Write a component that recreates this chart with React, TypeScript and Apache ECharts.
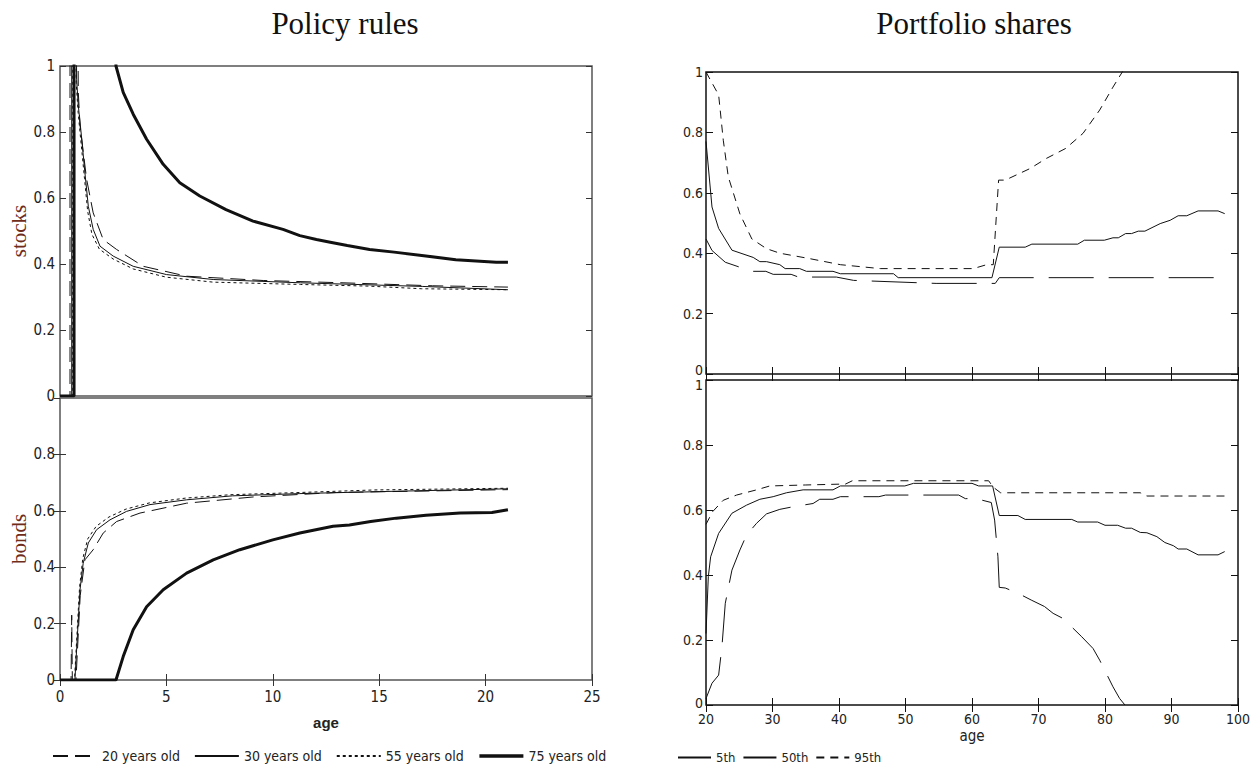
import React, { useEffect, useRef } from "react";
import * as echarts from "echarts";

// ---------- Policy rules (left panel) ----------
const policyXTicks = [0, 5, 10, 15, 20, 25];
const policyNames = ["20 years old", "30 years old", "55 years old", "75 years old"];

const stocks20: number[][] = [[0, 0], [0.47, 0], [0.47, 1.5], [0.8, 1.5], [0.86, 0.92], [0.94, 0.82], [1.25, 0.657], [1.56, 0.555], [2.03, 0.474], [2.66, 0.444], [3.91, 0.393], [5.95, 0.363], [9.55, 0.35], [13.3, 0.343], [17.5, 0.334], [21.05, 0.33]];
const stocks30: number[][] = [[0, 0], [0.55, 0], [0.55, 1.5], [0.75, 1.5], [0.78, 0.96], [0.86, 0.88], [1.02, 0.78], [1.17, 0.677], [1.33, 0.575], [1.56, 0.505], [1.88, 0.454], [2.5, 0.424], [3.44, 0.393], [5.0, 0.368], [7.2, 0.353], [11.3, 0.343], [17.05, 0.332], [21.05, 0.322]];
const stocks55: number[][] = [[0, 0], [0.6, 0], [0.6, 1.5], [0.72, 1.5], [0.76, 0.95], [0.85, 0.86], [1.0, 0.76], [1.15, 0.66], [1.3, 0.56], [1.5, 0.49], [1.85, 0.445], [2.5, 0.415], [3.44, 0.385], [5.0, 0.36], [7.2, 0.345], [11.3, 0.338], [14.5, 0.333], [17.0, 0.325], [21.05, 0.322]];
const stocks75: number[][] = [[0, 0], [0.66, 0], [0.66, 1.5], [2.5, 1.5], [2.63, 1.0], [2.97, 0.92], [3.44, 0.854], [4.07, 0.778], [4.85, 0.702], [5.63, 0.646], [6.57, 0.606], [7.8, 0.565], [9.07, 0.53], [10.48, 0.505], [11.27, 0.486], [12.05, 0.474], [12.7, 0.466], [13.5, 0.456], [14.55, 0.444], [15.7, 0.436], [17.0, 0.426], [18.6, 0.413], [20.5, 0.405], [21.05, 0.405]];

const bonds20: number[][] = [[0, 0], [0.52, 0], [0.55, 0.23], [0.58, 0], [0.75, 0], [0.95, 0.3], [1.17, 0.426], [1.56, 0.462], [2.03, 0.521], [2.66, 0.562], [3.76, 0.592], [5.95, 0.627], [9.07, 0.649], [13.0, 0.665], [21.05, 0.675]];
const bonds30: number[][] = [[0, 0], [0.7, 0], [0.94, 0.32], [1.09, 0.414], [1.33, 0.486], [1.72, 0.533], [2.35, 0.568], [3.13, 0.598], [4.23, 0.622], [5.95, 0.639], [8.1, 0.653], [11.27, 0.661], [15.0, 0.668], [21.05, 0.678]];
const bonds55: number[][] = [[0, 0], [0.68, 0], [0.92, 0.33], [1.07, 0.43], [1.3, 0.5], [1.7, 0.545], [2.3, 0.578], [3.1, 0.606], [4.2, 0.628], [5.9, 0.645], [8.0, 0.657], [11.3, 0.665], [14.8, 0.674], [21.05, 0.68]];
const bonds75: number[][] = [[0, 0], [2.63, 0], [2.97, 0.083], [3.44, 0.178], [4.07, 0.26], [4.85, 0.32], [5.95, 0.379], [7.2, 0.426], [8.45, 0.462], [10.0, 0.497], [11.27, 0.521], [12.83, 0.545], [13.6, 0.55], [14.6, 0.562], [15.8, 0.574], [17.2, 0.584], [18.8, 0.592], [20.3, 0.594], [21.05, 0.604]];

// ---------- Portfolio shares (right panel) ----------
const shareNames = ["5th", "50th", "95th"];

const stocksP5: number[][] = [[20, 0.447], [20.9, 0.409], [22.9, 0.37], [24.9, 0.355], [27.1, 0.34], [29, 0.34], [30.1, 0.33], [32.8, 0.33], [33.9, 0.321], [39.6, 0.321], [42.2, 0.31], [54.6, 0.3], [63, 0.3], [63.5, 0.3], [64.1, 0.319], [97.6, 0.319]];
const stocksP50: number[][] = [[20, 0.77], [20.9, 0.553], [21.9, 0.482], [23.9, 0.41], [27.1, 0.386], [28.1, 0.372], [29.1, 0.372], [31.1, 0.362], [31.9, 0.349], [34.1, 0.349], [35.1, 0.34], [39.1, 0.34], [40.2, 0.332], [48.2, 0.332], [48.9, 0.319], [63, 0.319], [64.1, 0.42], [68, 0.42], [69, 0.43], [75.9, 0.43], [76.9, 0.443], [79.9, 0.443], [81.2, 0.451], [82, 0.451], [83.1, 0.465], [84, 0.465], [85, 0.473], [86, 0.473], [88.3, 0.498], [89.8, 0.509], [91, 0.524], [92.3, 0.524], [94, 0.54], [97, 0.54], [98, 0.531]];
const stocksP95: number[][] = [[20, 1.0], [21.9, 0.924], [22.6, 0.774], [23.35, 0.653], [25.1, 0.53], [26.9, 0.447], [29.1, 0.415], [31.1, 0.4], [35.6, 0.382], [40.2, 0.362], [46.2, 0.349], [60.2, 0.349], [62.2, 0.362], [63.2, 0.362], [64, 0.642], [65, 0.642], [68.7, 0.68], [71.2, 0.714], [74.1, 0.747], [76.7, 0.797], [79.2, 0.874], [81.2, 0.95], [82.6, 1.0], [83.5, 1.04]];

const bondsP5: number[][] = [[20, 0.02], [20.9, 0.067], [21.9, 0.092], [22.4, 0.18], [22.9, 0.313], [23.9, 0.415], [25.1, 0.477], [26.1, 0.523], [27.6, 0.559], [29.1, 0.588], [31.1, 0.602], [33.1, 0.61], [36.1, 0.62], [37.1, 0.633], [39.1, 0.633], [40.2, 0.641], [46, 0.641], [47, 0.646], [58, 0.646], [59, 0.635], [60.6, 0.635], [62.9, 0.623], [63.4, 0.569], [63.9, 0.456], [64.1, 0.362], [65, 0.36], [66.9, 0.344], [68.9, 0.323], [70.9, 0.303], [72.2, 0.282], [73.9, 0.264], [74.7, 0.246], [76.5, 0.21], [78.2, 0.174], [79.2, 0.138], [80.2, 0.097], [81.2, 0.056], [82.2, 0.02], [83, 0.0]];
const bondsP50: number[][] = [[20, 0.22], [20.35, 0.395], [20.7, 0.456], [21.9, 0.528], [23.9, 0.59], [26.1, 0.615], [28.1, 0.633], [30.1, 0.641], [32.1, 0.653], [34.6, 0.662], [39.1, 0.662], [40.2, 0.674], [49.9, 0.674], [51.2, 0.682], [60, 0.682], [61, 0.674], [63.1, 0.674], [64.1, 0.583], [66.9, 0.583], [68, 0.571], [75, 0.571], [75.9, 0.563], [78.9, 0.563], [80, 0.553], [81.9, 0.553], [83.1, 0.544], [84, 0.544], [85.3, 0.531], [86.3, 0.53], [87.8, 0.518], [89, 0.5], [90.3, 0.49], [91, 0.48], [92.3, 0.48], [94, 0.462], [97, 0.462], [98, 0.472]];
const bondsP95: number[][] = [[20, 0.556], [21, 0.595], [22.6, 0.63], [24.6, 0.646], [27.6, 0.662], [29.6, 0.674], [35, 0.677], [41, 0.68], [42, 0.69], [62.5, 0.69], [63.2, 0.67], [64.3, 0.653], [85.3, 0.653], [86.3, 0.643], [98, 0.643]];

const NARROW = '"Liberation Sans Narrow", "Arial Narrow", "DejaVu Sans Condensed", "Liberation Sans", sans-serif';
const SERIF = '"Liberation Serif", "Times New Roman", serif';

export default function App() {
  const ref = useRef<HTMLDivElement>(null);

  useEffect(() => {
    if (!ref.current) return;
    const chart = echarts.init(ref.current, undefined, { renderer: "svg" });

    const leftFrame = "#555";
    const rightFrame = "#111";
    const rightTick = { show: true, inside: true, length: 7, lineStyle: { color: "#111", width: 1 } };

    const mkY = (grid: number, pos: "left" | "right", opts: any = {}) => ({
      type: "value",
      gridIndex: grid,
      position: pos,
      min: 0,
      max: 1,
      interval: 0.2,
      axisLine: { show: false },
      splitLine: { show: false },
      axisTick: { show: true, inside: true, length: 6, lineStyle: { color: "#333", width: 1 } },
      axisLabel: { show: false },
      ...opts,
    });
    const mkX = (grid: number, pos: "bottom" | "top", min: number, max: number, interval: number, opts: any = {}) => ({
      type: "value",
      gridIndex: grid,
      position: pos,
      min,
      max,
      interval,
      axisLine: { show: false },
      splitLine: { show: false },
      axisTick: { show: true, inside: true, length: 6, lineStyle: { color: "#333", width: 1 } },
      axisLabel: { show: false },
      ...opts,
    });

    const leftLabel = { show: true, fontFamily: NARROW, fontSize: 15, color: "#222", margin: 5 };
    const rightLabel = { show: true, fontFamily: NARROW, fontSize: 14, color: "#222", margin: 3 };

    const lineSeries = (name: string, data: number[][], xi: number, yi: number, width: number, type: any) => ({
      name,
      type: "line",
      data,
      xAxisIndex: xi,
      yAxisIndex: yi,
      symbol: "none",
      showSymbol: false,
      clip: true,
      silent: true,
      itemStyle: { color: "#111" },
      lineStyle: { color: "#111", width, type },
    });

    const styles: any[] = [
      { w: 1, t: [15, 7] },
      { w: 1, t: "solid" },
      { w: 1, t: [3, 3] },
      { w: 3, t: "solid" },
    ];
    const pStyles: any[] = [
      { w: 1, t: [45, 15] },
      { w: 1, t: "solid" },
      { w: 1, t: [8, 6] },
    ];

    const stocksLeft = [stocks20, stocks30, stocks55, stocks75];
    const bondsLeft = [bonds20, bonds30, bonds55, bonds75];
    const stocksRight = [stocksP5, stocksP50, stocksP95];
    const bondsRight = [bondsP5, bondsP50, bondsP95];

    const series: any[] = [];
    policyNames.forEach((n, i) => series.push(lineSeries(n, stocksLeft[i], 0, 0, styles[i].w, styles[i].t)));
    policyNames.forEach((n, i) => series.push(lineSeries(n, bondsLeft[i], 1, 2, styles[i].w, styles[i].t)));
    shareNames.forEach((n, i) => series.push(lineSeries(n, stocksRight[i], 3, 4, pStyles[i].w, pStyles[i].t)));
    shareNames.forEach((n, i) => series.push(lineSeries(n, bondsRight[i], 5, 6, pStyles[i].w, pStyles[i].t)));

    const xMinL = policyXTicks[0];
    const xMaxL = policyXTicks[policyXTicks.length - 1];

    chart.setOption({
      animation: false,
      backgroundColor: "#fff",
      title: [
        { text: "Policy rules", left: 345, top: 8, textAlign: "center", padding: 0, textStyle: { fontFamily: SERIF, fontSize: 31, fontWeight: "normal", color: "#111" } },
        { text: "Portfolio shares", left: 974, top: 8, textAlign: "center", padding: 0, textStyle: { fontFamily: SERIF, fontSize: 31, fontWeight: "normal", color: "#111" } },
      ],
      grid: [
        { left: 60, top: 66, width: 532, height: 330, show: true, borderColor: leftFrame, borderWidth: 1.5, backgroundColor: "transparent" },
        { left: 60, top: 398, width: 532, height: 282, show: true, borderColor: leftFrame, borderWidth: 1.5, backgroundColor: "transparent" },
        { left: 706, top: 72, width: 532, height: 302, show: true, borderColor: rightFrame, borderWidth: 1.5, backgroundColor: "transparent" },
        { left: 706, top: 380, width: 532, height: 325, show: true, borderColor: rightFrame, borderWidth: 1.5, backgroundColor: "transparent" },
      ],
      xAxis: [
        mkX(0, "bottom", xMinL, xMaxL, 5, { axisTick: { show: false } }),
        mkX(1, "bottom", xMinL, xMaxL, 5, {
          axisLabel: { ...leftLabel, margin: 9 },
          name: "age",
          nameLocation: "middle",
          nameGap: 35,
          nameTextStyle: { fontFamily: '"Liberation Sans", Arial, sans-serif', fontSize: 15, fontWeight: "bold", color: "#222" },
        }),
        mkX(1, "top", xMinL, xMaxL, 5),
        mkX(2, "bottom", 20, 100, 10, { axisTick: rightTick }),
        mkX(2, "top", 20, 100, 10, { axisTick: rightTick }),
        mkX(3, "bottom", 20, 100, 10, {
          axisTick: rightTick,
          axisLabel: { ...rightLabel, margin: 7 },
          name: "age",
          nameLocation: "middle",
          nameGap: 23,
          nameTextStyle: { fontFamily: NARROW, fontSize: 15, color: "#222" },
        }),
        mkX(3, "top", 20, 100, 10, { axisTick: rightTick }),
      ],
      yAxis: [
        mkY(0, "left", {
          axisLabel: leftLabel,
          name: "stocks",
          nameLocation: "middle",
          nameRotate: 90,
          nameGap: 31,
          nameTextStyle: { fontFamily: SERIF, fontSize: 21, color: "#6e2c1a" },
        }),
        mkY(0, "right"),
        mkY(1, "left", {
          axisLabel: { ...leftLabel, showMaxLabel: false },
          name: "bonds",
          nameLocation: "middle",
          nameRotate: 90,
          nameGap: 31,
          nameTextStyle: { fontFamily: SERIF, fontSize: 21, color: "#6e2c1a" },
        }),
        mkY(1, "right"),
        mkY(2, "left", {
          axisTick: rightTick,
          axisLabel: {
            ...rightLabel,
            formatter: (v: number) => (v === 0 ? "{lo|0}" : String(Math.round(v * 10) / 10)),
            rich: { lo: { fontFamily: NARROW, fontSize: 14, color: "#222", padding: [0, 0, 9, 0] } },
          },
        }),
        mkY(2, "right", { axisTick: rightTick }),
        mkY(3, "left", {
          axisTick: rightTick,
          axisLabel: {
            ...rightLabel,
            formatter: (v: number) =>
              v === 1 ? "{hi|1}" : v === 0 ? "{lo|0}" : String(Math.round(v * 10) / 10),
            rich: {
              hi: { fontFamily: NARROW, fontSize: 14, color: "#222", padding: [9, 0, 0, 0] },
              lo: { fontFamily: NARROW, fontSize: 14, color: "#222", padding: [0, 0, 5, 0] },
            },
          },
        }),
        mkY(3, "right", { axisTick: rightTick }),
      ],
      legend: [
        {
          data: [
            policyNames[0],
            policyNames[1],
            policyNames[2],
            { name: policyNames[3], lineStyle: { width: 3.5 } },
          ],
          left: 52,
          top: 749,
          padding: 0,
          itemWidth: 44,
          itemHeight: 14,
          itemGap: 14,
          selectedMode: false,
          itemStyle: { opacity: 0 },
          textStyle: { fontFamily: NARROW, fontSize: 14, color: "#222" },
        },
        {
          data: [{ name: shareNames[0], lineStyle: { type: "solid" } }, shareNames[1], shareNames[2]],
          left: 677,
          top: 751,
          padding: 0,
          itemWidth: 33,
          itemHeight: 12,
          itemGap: 7,
          selectedMode: false,
          itemStyle: { opacity: 0 },
          textStyle: { fontFamily: NARROW, fontSize: 13, color: "#222" },
        },
      ],
      series,
    });

    return () => chart.dispose();
  }, []);

  return <div ref={ref} style={{ position: "absolute", left: 0, top: 0, width: 1258, height: 769 }} />;
}
